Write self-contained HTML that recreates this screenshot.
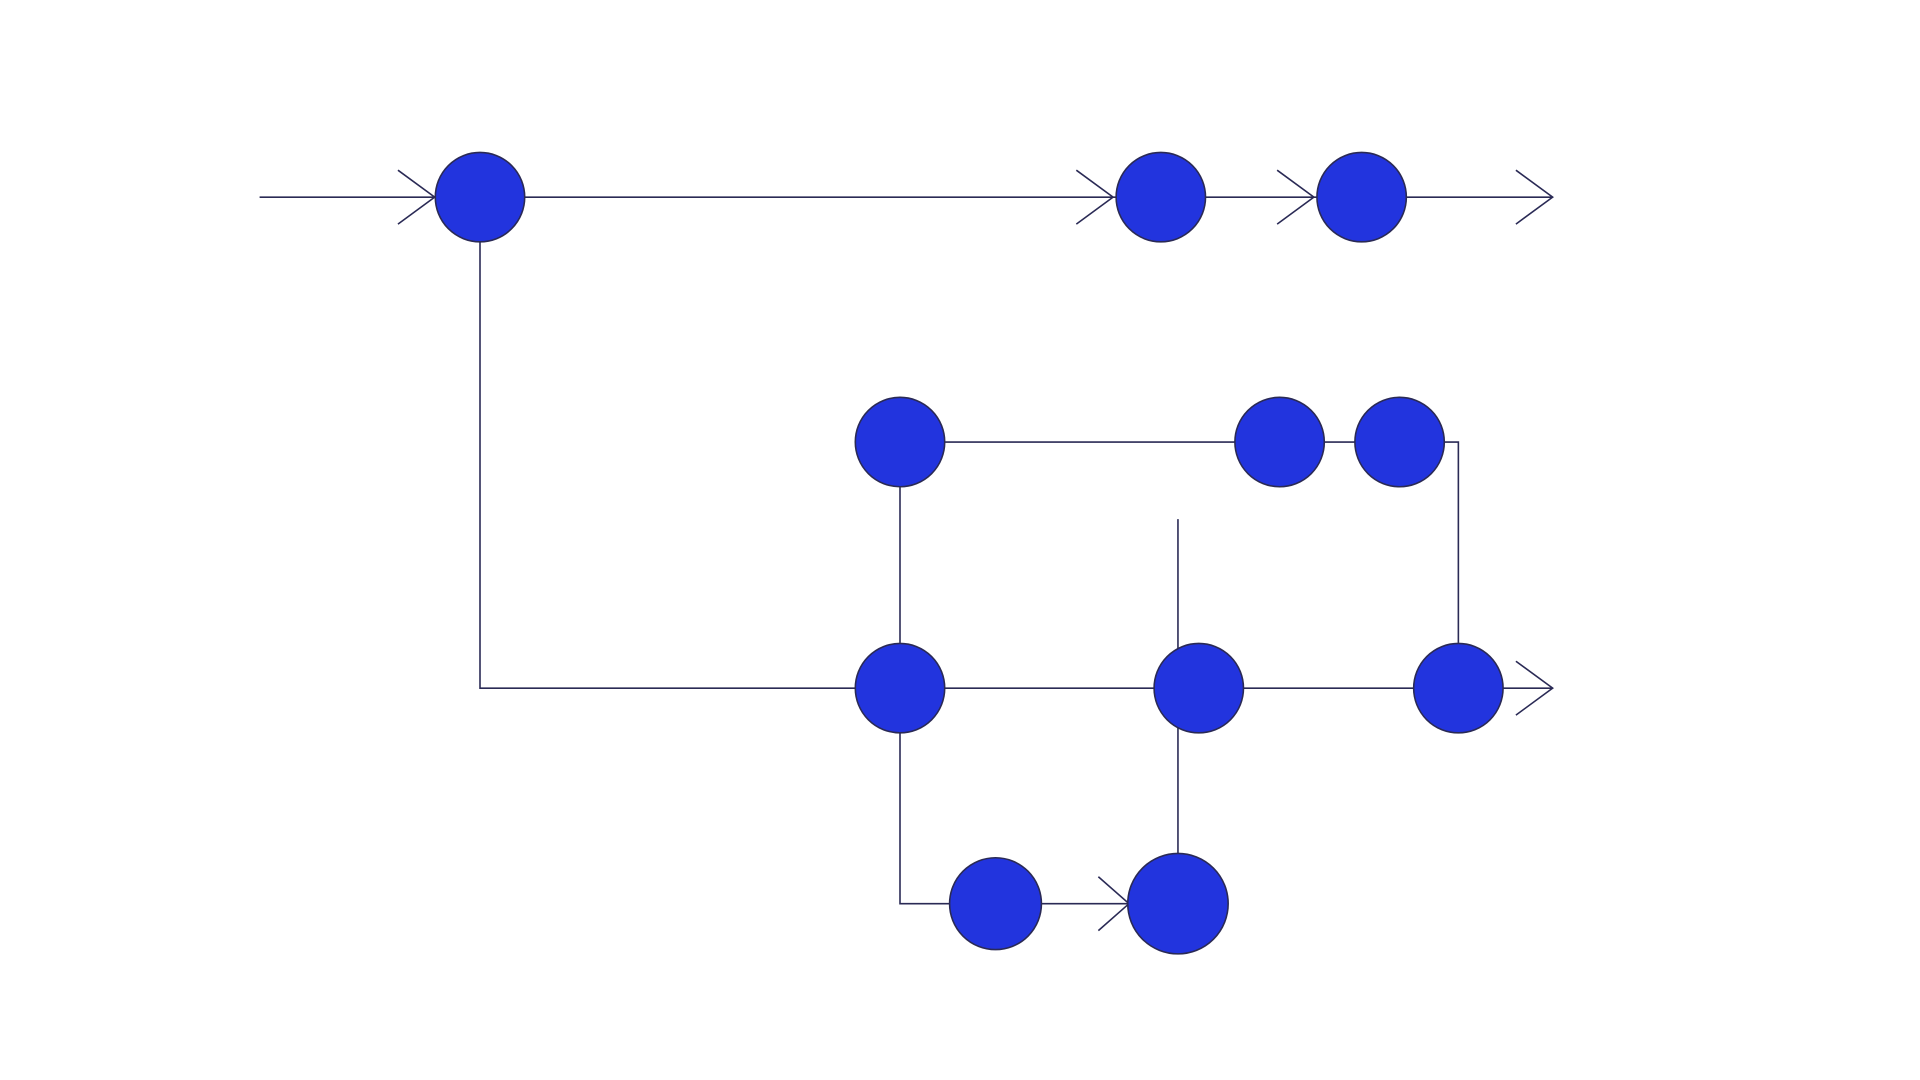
<!DOCTYPE html>
<html><head><style>html,body{margin:0;padding:0;background:#fff}svg{display:block}</style></head>
<body>
<svg width="1920" height="1080" viewBox="0 0 1568 882" xmlns="http://www.w3.org/2000/svg">
<g stroke="#2a2a55" stroke-width="1.3" fill="none">
<line x1="212" y1="161" x2="1268" y2="161"/>
<path d="M325 139L355 161L325 183M879 139L909 161L879 183M1043 139L1073 161L1043 183M1238 139L1268 161L1238 183"/>
<polyline points="392,197 392,562 735,562 1191,562 1268,562"/>
<path d="M1238 540L1268 562L1238 584"/>
<polyline points="772,361 1191,361 1191,525"/>
<line x1="735" y1="398" x2="735" y2="525"/>
<polyline points="735,598 735,738 922,738"/>
<path d="M897 716L922 738L897 760"/>
<line x1="962" y1="424" x2="962" y2="697"/>
</g>
<g fill="#2234de" stroke="#2a2a55" stroke-width="1.3">
<circle cx="392" cy="161" r="36.5"/>
<circle cx="948" cy="161" r="36.5"/>
<circle cx="1112" cy="161" r="36.5"/>
<circle cx="735" cy="361" r="36.5"/>
<circle cx="1045" cy="361" r="36.5"/>
<circle cx="1143" cy="361" r="36.5"/>
<circle cx="735" cy="562" r="36.5"/>
<circle cx="979" cy="562" r="36.5"/>
<circle cx="1191" cy="562" r="36.5"/>
<circle cx="813" cy="738" r="37.5"/>
<circle cx="962" cy="738" r="41"/>
</g>
</svg>
</body></html>
